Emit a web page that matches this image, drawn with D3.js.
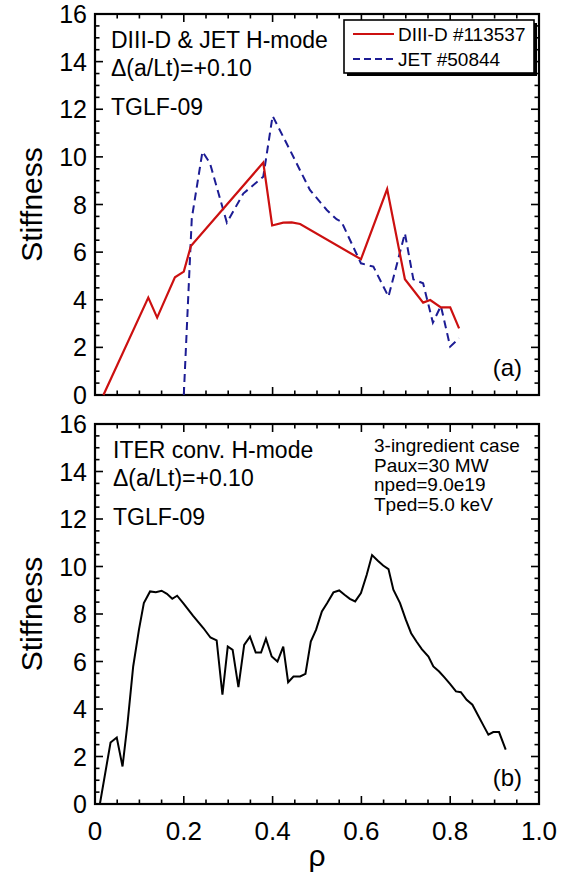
<!DOCTYPE html>
<html><head><meta charset="utf-8">
<script src="https://cdn.jsdelivr.net/npm/d3@7"></script>
<style>
body{margin:0;background:#fff;}
svg{display:block;font-family:"Liberation Sans",Arial,Helvetica,sans-serif;}
</style></head>
<body>
<svg id="chart" width="570" height="878"></svg>
<script>
// ---- data ----
const diiidRho = [0.019,0.120,0.140,0.160,0.180,0.200,0.216,0.379,0.399,0.424,0.443,0.462,0.599,0.658,0.698,0.739,0.755,0.779,0.800,0.820];
const diiidStiff = [0.0,4.09,3.25,4.10,4.94,5.18,6.26,9.76,7.12,7.24,7.25,7.18,5.70,8.65,4.86,3.88,3.99,3.68,3.68,2.80];

const jetRho = [0.200,0.218,0.242,0.259,0.297,0.334,0.379,0.400,0.439,0.484,0.522,0.544,0.555,0.599,0.627,0.661,0.698,0.717,0.739,0.761,0.779,0.800,0.820];
const jetStiff = [0.0,7.42,10.22,9.73,7.24,8.46,9.17,11.72,10.29,8.61,7.77,7.38,7.28,5.53,5.39,4.13,6.79,4.86,4.69,3.04,3.74,2.03,2.38];

const iterRho = [0.011,0.035,0.049,0.062,0.073,0.086,0.099,0.110,0.124,0.137,0.150,0.162,0.174,0.185,0.200,0.221,0.244,0.260,0.274,0.287,0.299,0.310,0.323,0.336,0.349,0.362,0.374,0.385,0.398,0.411,0.424,0.435,0.447,0.462,0.474,0.486,0.498,0.511,0.523,0.537,0.550,0.562,0.574,0.586,0.599,0.612,0.624,0.637,0.649,0.661,0.672,0.687,0.700,0.712,0.724,0.736,0.751,0.762,0.775,0.787,0.800,0.813,0.824,0.837,0.850,0.862,0.875,0.886,0.897,0.910,0.925];
const iterStiff = [0.0,2.59,2.80,1.58,3.34,5.79,7.34,8.46,8.95,8.92,8.98,8.85,8.64,8.77,8.43,7.92,7.41,7.01,6.89,4.60,6.63,6.49,4.92,6.70,7.05,6.38,6.38,6.96,6.21,6.00,6.63,5.13,5.37,5.37,5.48,6.84,7.34,8.11,8.46,8.91,8.99,8.81,8.64,8.53,8.88,9.65,10.48,10.24,10.04,9.89,9.02,8.46,7.76,7.19,6.84,6.52,6.21,5.79,5.58,5.33,5.05,4.74,4.71,4.39,4.18,3.76,3.30,2.92,3.03,3.03,2.29];

const xTickLabels = ["0","0.2","0.4","0.6","0.8","1.0"];
const xMajor = [0,0.2,0.4,0.6,0.8,1.0];
const yMajor = [0,2,4,6,8,10,12,14,16];

const legendNames = ["DIII-D #113537","JET #50844"];
const topText = ["DIII-D & JET H-mode","Δ(a/Lt)=+0.10","TGLF-09"];
const botText = ["ITER conv. H-mode","Δ(a/Lt)=+0.10","TGLF-09"];
const botRightText = ["3-ingredient case","Paux=30 MW","nped=9.0e19","Tped=5.0 keV"];

// ---- layout ----
const svg = d3.select("#chart");
const L = 95, R = 539;
const panels = [{top:14,bottom:395},{top:424,bottom:804}];
const x = d3.scaleLinear().domain([0,1]).range([L,R]);
const xMinor = d3.range(0,1.0001,0.05);
const yMinor = d3.range(0,16.0001,0.5);
const RED = "#cc1010", BLUE = "#1c1c94";

function drawFrame(p, y, showX){
  const g = svg.append("g");
  const tk = g.append("g").attr("stroke","#000").attr("stroke-width",1.6);
  // x ticks bottom and top
  xMinor.forEach(v=>{
    const isMaj = xMajor.some(m=>Math.abs(m-v)<1e-6);
    const len = isMaj?8:4.5;
    tk.append("line").attr("x1",x(v)).attr("x2",x(v)).attr("y1",p.bottom).attr("y2",p.bottom-len);
    tk.append("line").attr("x1",x(v)).attr("x2",x(v)).attr("y1",p.top).attr("y2",p.top+len);
  });
  yMinor.forEach(v=>{
    const isMaj = yMajor.includes(v);
    const len = isMaj?8:4.5;
    tk.append("line").attr("x1",L).attr("x2",L+len).attr("y1",y(v)).attr("y2",y(v));
    tk.append("line").attr("x1",R).attr("x2",R-len).attr("y1",y(v)).attr("y2",y(v));
  });
  g.append("rect").attr("x",L).attr("y",p.top).attr("width",R-L).attr("height",p.bottom-p.top)
    .attr("fill","none").attr("stroke","#000").attr("stroke-width",2.2);
  // y labels
  g.selectAll("text.yl").data(yMajor).enter().append("text")
    .attr("x",L-8).attr("y",d=>y(d)).attr("dy","0.36em").attr("text-anchor","end")
    .attr("font-size",25).text(d=>d);
  if(showX){
    g.selectAll("text.xl").data(xMajor).enter().append("text")
      .attr("x",d=>x(d)).attr("y",p.bottom+36).attr("text-anchor","middle")
      .attr("font-size",26).text((d,i)=>xTickLabels[i]);
  }
  // y title
  g.append("text").attr("transform",`translate(42,${(p.top+p.bottom)/2}) rotate(-90)`)
    .attr("text-anchor","middle").attr("font-size",30).text("Stiffness");
}

// ---- top panel ----
const yA = d3.scaleLinear().domain([0,16]).range([panels[0].bottom,panels[0].top]);
drawFrame(panels[0], yA, false);
const line = (ys)=>d3.line().x(d=>x(d[0])).y(d=>ys(d[1]));
svg.append("path").datum(jetRho.map((r,i)=>[r,jetStiff[i]]))
  .attr("d",line(yA)).attr("fill","none").attr("stroke",BLUE).attr("stroke-width",2)
  .attr("stroke-dasharray","8,5");
svg.append("path").datum(diiidRho.map((r,i)=>[r,diiidStiff[i]]))
  .attr("d",line(yA)).attr("fill","none").attr("stroke",RED).attr("stroke-width",2.2);

const tA = svg.append("g").attr("font-size",23);
tA.append("text").attr("x",111).attr("y",48).text(topText[0]);
tA.append("text").attr("x",111).attr("y",76).text(topText[1]);
tA.append("text").attr("x",111).attr("y",115).text(topText[2]);
svg.append("text").attr("x",522).attr("y",376).attr("text-anchor","end").attr("font-size",24).text("(a)");

// legend
const lg = svg.append("g");
lg.append("rect").attr("x",347).attr("y",23).attr("width",190).attr("height",53).attr("fill","#000");
lg.append("rect").attr("x",344).attr("y",20).attr("width",190).attr("height",53)
  .attr("fill","#fff").attr("stroke","#000").attr("stroke-width",1.6);
lg.append("line").attr("x1",353).attr("x2",394).attr("y1",34).attr("y2",34).attr("stroke",RED).attr("stroke-width",2);
lg.append("line").attr("x1",353).attr("x2",394).attr("y1",59).attr("y2",59).attr("stroke",BLUE).attr("stroke-width",2).attr("stroke-dasharray","7,4");
lg.append("text").attr("x",398).attr("y",41).attr("font-size",19).text(legendNames[0]);
lg.append("text").attr("x",398).attr("y",66).attr("font-size",19).text(legendNames[1]);

// ---- bottom panel ----
const yB = d3.scaleLinear().domain([0,16]).range([panels[1].bottom,panels[1].top]);
drawFrame(panels[1], yB, true);
svg.append("path").datum(iterRho.map((r,i)=>[r,iterStiff[i]]))
  .attr("d",line(yB)).attr("fill","none").attr("stroke","#000").attr("stroke-width",2);

const tB = svg.append("g").attr("font-size",23);
tB.append("text").attr("x",113).attr("y",458).text(botText[0]);
tB.append("text").attr("x",113).attr("y",486).text(botText[1]);
tB.append("text").attr("x",113).attr("y",525).text(botText[2]);
const tR = svg.append("g").attr("font-size",19);
botRightText.forEach((s,i)=>tR.append("text").attr("x",374).attr("y",452+i*19.6).text(s));
svg.append("text").attr("x",522).attr("y",786).attr("text-anchor","end").attr("font-size",24).text("(b)");

// x title
svg.append("text").attr("x",x(0.5)).attr("y",866).attr("text-anchor","middle").attr("font-size",30).text("ρ");
</script>
</body></html>
